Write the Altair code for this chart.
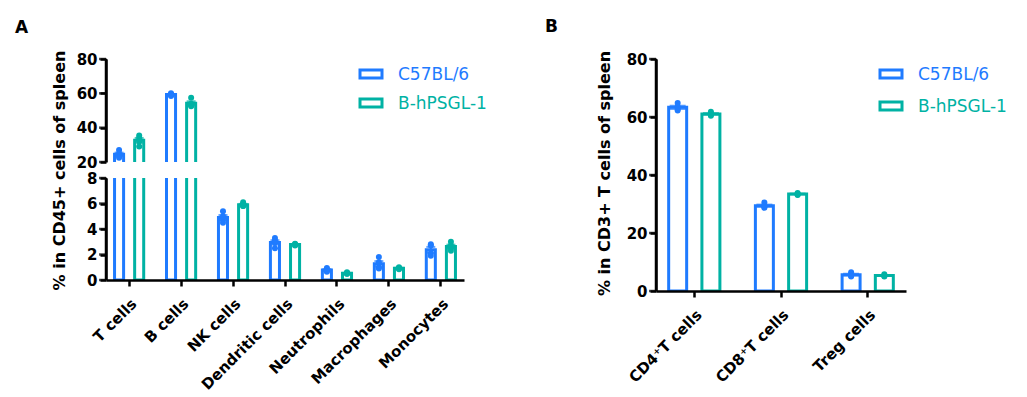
import altair as alt
import pandas as pd
import numpy as np

FONT = "DejaVu Sans"
series = ["C57BL/6", "B-hPSGL-1"]
colors = ["#1F7BFF", "#00B2A4"]

cats_a = ["T cells", "B cells", "NK cells", "Dendritic cells", "Neutrophils", "Macrophages", "Monocytes"]
dots_a_c57 = [[27.0, 25.0, 23.5, 22.5], [60.0, 59.5, 59.0, 58.5], [5.4, 5.0, 4.7, 4.5],
              [3.3, 3.1, 2.9, 2.5], [0.95, 0.85, 0.7, 0.65], [1.8, 1.4, 1.0, 0.9], [2.8, 2.7, 2.1, 1.9]]
dots_a_hp = [[35.5, 34.0, 32.0, 29.0], [57.5, 54.0, 53.0, 52.5], [6.1, 5.9, 5.8, 5.8],
             [2.85, 2.8, 2.75, 2.7], [0.6, 0.55, 0.5, 0.5], [1.0, 0.95, 0.9, 0.85], [3.0, 2.7, 2.5, 2.3]]

cats_b = ["CD4\u207aT cells", "CD8\u207aT cells", "Treg cells"]
dots_b_c57 = [[64.8, 63.5, 62.8, 62.2], [30.5, 29.4, 29.0, 28.7], [6.5, 5.7, 5.3, 5.0]]
dots_b_hp = [[61.8, 61.2, 60.8, 60.4], [33.8, 33.5, 33.3, 33.1], [5.8, 5.4, 5.2, 5.0]]

ticks_a_top = [20, 40, 60, 80]
ticks_a_bot = [0, 2, 4, 6, 8]
ticks_b = [0, 20, 40, 60, 80]


def build(cats, groups, key):
    rows, summ = [], []
    for s, g in zip(series, groups):
        for c, vals in zip(cats, g):
            for v in vals:
                rows.append({"cat": c, key: s, "value": v})
            arr = np.array(vals)
            m = arr.mean()
            se = arr.std(ddof=1) / np.sqrt(len(arr))
            summ.append({"cat": c, key: s, "mean": m, "lo": m - se, "hi": m + se})
    return pd.DataFrame(rows), pd.DataFrame(summ)


dots_a, summ_a = build(cats_a, [dots_a_c57, dots_a_hp], "grpA")
dots_b, summ_b = build(cats_b, [dots_b_c57, dots_b_hp], "grpB")

cscale = alt.Scale(domain=series, range=colors)
AX = dict(domain=True, ticks=True, domainColor="black", domainWidth=2.5, tickColor="black",
          tickWidth=2.5, tickSize=6, grid=False, labelOverlap=False, zindex=1)


def panel(dots, summ, key, cats, domain, tickvals, width, height, pin, pout, pin2, pout2, cap,
          xaxis, yaxis, legend_pos=None, letter=None):
    x = alt.X("cat:N", sort=cats, scale=alt.Scale(paddingInner=pin, paddingOuter=pout), axis=xaxis, title=None)
    xo = alt.XOffset(f"{key}:N", sort=series,
                     scale=alt.Scale(domain=series, paddingInner=pin2, paddingOuter=pout2))
    ys = alt.Scale(domain=domain, nice=False, zero=False)

    def Y(field):
        return alt.Y(field, scale=ys, axis=yaxis, title=None)

    col = alt.Color(f"{key}:N", scale=cscale, legend=None)
    bars = alt.Chart(summ).mark_bar(fill="white", strokeWidth=3, clip=True).encode(
        x=x, xOffset=xo, y=Y("mean:Q"),
        stroke=alt.Stroke(f"{key}:N", scale=cscale, legend=None))
    rule = alt.Chart(summ).mark_rule(strokeWidth=2, clip=True).encode(
        x=x, xOffset=xo, y=Y("lo:Q"), y2="hi:Q", color=col)
    caps_hi = alt.Chart(summ).mark_tick(thickness=2, size=cap, clip=True).encode(
        x=x, xOffset=xo, y=Y("hi:Q"), color=col)
    caps_lo = alt.Chart(summ).mark_tick(thickness=2, size=cap, clip=True).encode(
        x=x, xOffset=xo, y=Y("lo:Q"), color=col)
    pts = alt.Chart(dots).mark_circle(size=36, opacity=1, clip=True).encode(
        x=x, xOffset=xo, y=Y("value:Q"), color=col)
    # y axis line and ticks (drawn as filled shapes)
    yline = alt.Chart(pd.DataFrame({"lo": [domain[0]], "hi": [domain[1]]})).mark_rect(
        color="black", clip=False).encode(
        x=alt.value(-1.25), x2=alt.value(1.25), y=Y("lo:Q"), y2="hi:Q")
    yticks = alt.Chart(pd.DataFrame({"t": tickvals})).mark_tick(
        color="black", orient="horizontal", size=7, thickness=2.5, clip=False).encode(
        x=alt.value(-3.5), y=Y("t:Q"))
    layers = [bars, rule, caps_hi, caps_lo, pts, yline, yticks]
    if legend_pos is not None:
        lx, ly, dy = legend_pos
        for i, (s, c) in enumerate(zip(series, colors)):
            one = pd.DataFrame({"series": [s]})
            layers.append(alt.Chart(one).mark_rect(fill="white", stroke=c, strokeWidth=3).encode(
                x=alt.value(lx), x2=alt.value(lx + 22), y=alt.value(ly + i * dy - 4), y2=alt.value(ly + i * dy + 4)))
            layers.append(alt.Chart(one).mark_text(align="left", baseline="middle", font=FONT,
                                                   fontSize=17, color=c).encode(
                x=alt.value(lx + 38), y=alt.value(ly + i * dy + 1), text="series:N"))
    if letter is not None:
        t, lx, ly = letter
        layers.append(alt.Chart(pd.DataFrame({"t": [t]})).mark_text(
            align="left", baseline="alphabetic", font=FONT, fontSize=17, fontWeight="bold",
            color="black").encode(x=alt.value(lx), y=alt.value(ly), text="t:N"))
    return alt.layer(*layers).properties(width=width, height=height)


xaxis_a = alt.Axis(labelAngle=315, labelFontSize=15, labelPadding=10, **AX)
ytop_a = alt.Axis(values=ticks_a_top, labelFontSize=15, labelPadding=3, title=None, **AX)
ybot_a = alt.Axis(values=ticks_a_bot, labelFontSize=15, labelPadding=3,
                  title="% in CD45+ cells of spleen", titleFontSize=16, titleAngle=270,
                  titleX=-47, titleY=-8, titleAlign="center", titleBaseline="middle", **AX)

top_a = panel(dots_a, summ_a, "grpA", cats_a, [20, 80], ticks_a_top, 358, 103, 0.226, 0.058, 0.55, 0.275, 9,
              None, ytop_a, legend_pos=(254, 15, 29), letter=("A", -91, -26))
bot_a = panel(dots_a, summ_a, "grpA", cats_a, [0, 8], ticks_a_bot, 358, 102, 0.226, 0.058, 0.55, 0.275, 9,
              xaxis_a, ybot_a)

A = alt.vconcat(top_a, bot_a, spacing=16, bounds="flush")

xaxis_b = alt.Axis(labelAngle=315, labelFontSize=15, labelPadding=10, **AX)
yaxis_b = alt.Axis(values=ticks_b, labelFontSize=15, labelPadding=3,
                   title="% in CD3+ T cells of spleen", titleFontSize=16, titleAngle=270,
                   titleX=-52, titleY=114, titleAlign="center", titleBaseline="middle", **AX)
B = panel(dots_b, summ_b, "grpB", cats_b, [0, 80], ticks_b, 250, 232, 0.233, 0.058, 0.459, 0.23, 16,
          xaxis_b, yaxis_b, legend_pos=(224, 15, 32), letter=("B", -111, -27))

chart = alt.hconcat(A, B, spacing=550, bounds="flush").resolve_scale(
    xOffset="independent"
).properties(
    padding={"left": 7, "top": 10, "right": 5, "bottom": 5}, background="white"
).configure_view(stroke=None).configure_axis(
    labelFont=FONT, labelFontWeight="bold", labelColor="black",
    titleFont=FONT, titleFontWeight="bold", titleColor="black"
)

chart.save("out.html", embed_options={"renderer": "svg", "actions": False})
